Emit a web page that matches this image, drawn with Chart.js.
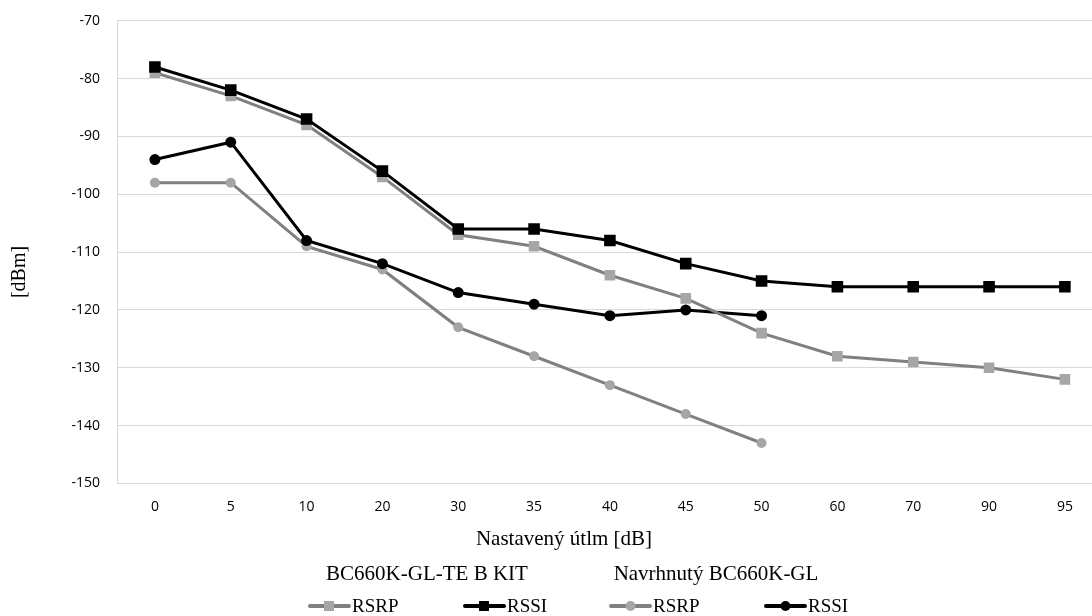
<!DOCTYPE html>
<html>
<head>
<meta charset="utf-8">
<script src="https://cdn.jsdelivr.net/npm/chart.js@4"></script>
<style>
    html, body { margin: 0; padding: 0; background: #ffffff; overflow: hidden; }
    #chartPicture { display: block; }
</style>
</head>
<body>
<canvas id="chartPicture" width="1111" height="616"></canvas>
<script>
const attenuationLabels = ["0", "5", "10", "20", "30", "35", "40", "45", "50", "60", "70", "90", "95"];
const kitRsrp = [-79, -83, -88, -97, -107, -109, -114, -118, -124, -128, -129, -130, -132];
const kitRssi = [-78, -82, -87, -96, -106, -106, -108, -112, -115, -116, -116, -116, -116];
const boardRsrp = [-98, -98, -109, -113, -123, -128, -133, -138, -143];
const boardRssi = [-94, -91, -108, -112, -117, -119, -121, -120, -121];
const yTicks = [-150, -140, -130, -120, -110, -100, -90, -80, -70];

const groupTitles = ["BC660K-GL-TE B KIT", "Navrhnutý BC660K-GL"];
const xTitle = "Nastavený útlm [dB]";
const yTitle = "[dBm]";

const serif = "'Liberation Serif', 'Times New Roman', serif";
const sans = "'Open Sans', 'Noto Sans', sans-serif";

const context = document.getElementById("chartPicture");

// titles and the grouped legend drawn straight on the canvas
const extrasPlugin =
{
    id: "extras",
    afterDraw(chart)
    {
        const ctx = chart.ctx;
        ctx.save();
        ctx.fillStyle = "#000000";
        ctx.font = "21px " + serif;
        ctx.textBaseline = "middle";
        ctx.textAlign = "center";
        ctx.fillText(xTitle, 564, 539);
        ctx.fillText(groupTitles[0], 427, 574);
        ctx.fillText(groupTitles[1], 716, 574);

        ctx.save();
        ctx.translate(20, 272);
        ctx.rotate(-Math.PI / 2);
        ctx.font = "20px " + serif;
        ctx.fillText(yTitle, 0, 0);
        ctx.restore();

        ctx.font = "19px " + serif;
        const items = chart.data.datasets
            .slice()
            .sort((a, b) => a.legendIndex - b.legendIndex);
        const startX = [310, 465, 611, 766];
        const y = 606;
        items.forEach((ds, i) =>
        {
            const x0 = startX[i];
            ctx.strokeStyle = ds.borderColor;
            ctx.lineWidth = 4;
            ctx.lineCap = "round";
            ctx.beginPath();
            ctx.moveTo(x0, y);
            ctx.lineTo(x0 + 39, y);
            ctx.stroke();
            ctx.fillStyle = ds.pointBackgroundColor;
            if(ds.pointStyle === "rect")
            {
                ctx.fillRect(x0 + 14, y - 5, 10, 10);
            }
            else
            {
                ctx.beginPath();
                ctx.arc(x0 + 19.5, y, 5, 0, Math.PI * 2);
                ctx.fill();
            }
            ctx.fillStyle = "#000000";
            ctx.textAlign = "left";
            ctx.fillText(ds.label, x0 + 42, y + 1);
        });
        ctx.restore();
    }
};

const configObject =
{
    type: "line",
    data:
    {
        labels: attenuationLabels,
        datasets:
        [
            {
                label: "RSRP",
                legendIndex: 0,
                data: kitRsrp,
                borderColor: "#808080",
                borderWidth: 3,
                pointStyle: "rect",
                pointRadius: 7.5,
                pointBackgroundColor: "#a6a6a6",
                pointBorderWidth: 0,
                order: 1,
            },
            {
                label: "RSSI",
                legendIndex: 1,
                data: kitRssi,
                borderColor: "#000000",
                borderWidth: 3,
                pointStyle: "rect",
                pointRadius: 8.2,
                pointBackgroundColor: "#000000",
                pointBorderWidth: 0,
                order: 0,
            },
            {
                label: "RSRP",
                legendIndex: 2,
                data: boardRsrp,
                borderColor: "#808080",
                borderWidth: 3,
                pointStyle: "circle",
                pointRadius: 5,
                pointBackgroundColor: "#a6a6a6",
                pointBorderWidth: 0,
                order: 3,
            },
            {
                label: "RSSI",
                legendIndex: 3,
                data: boardRssi,
                borderColor: "#000000",
                borderWidth: 3,
                pointStyle: "circle",
                pointRadius: 5.5,
                pointBackgroundColor: "#000000",
                pointBorderWidth: 0,
                order: 2,
            },
        ],
    },
    options:
    {
        responsive: false,
        animation: false,
        events: [],
        layout:
        {
            padding: { top: 20.7, left: 0, right: 0, bottom: 0 },
        },
        plugins:
        {
            legend: { display: false },
            tooltip: { enabled: false },
        },
        scales:
        {
            x:
            {
                offset: true,
                grid: { display: false, drawTicks: false },
                border: { display: true, color: "#d9d9d9", width: 1 },
                ticks:
                {
                    color: "#000000",
                    font: { family: sans, size: 14 },
                    padding: 15,
                    maxRotation: 0,
                    autoSkip: false,
                },
                afterFit(scale)
                {
                    scale.height = 616 - 483.5;
                    scale.paddingLeft = 0;
                    scale.paddingRight = 0;
                },
            },
            y:
            {
                min: -150,
                max: -70,
                afterBuildTicks(scale) { scale.ticks = yTicks.map(v => ({ value: v })); },
                grid: { color: "#d9d9d9", lineWidth: 1, drawTicks: false },
                border: { display: true, color: "#d9d9d9", width: 1 },
                ticks:
                {
                    color: "#000000",
                    font: { family: sans, size: 14 },
                    padding: 17,
                },
                afterFit(scale)
                {
                    scale.width = 117;
                    scale.paddingTop = 0;
                    scale.paddingBottom = 0;
                },
            },
        },
    },
    plugins: [extrasPlugin],
};

const myChart = new Chart(context, configObject);
</script>
</body>
</html>
